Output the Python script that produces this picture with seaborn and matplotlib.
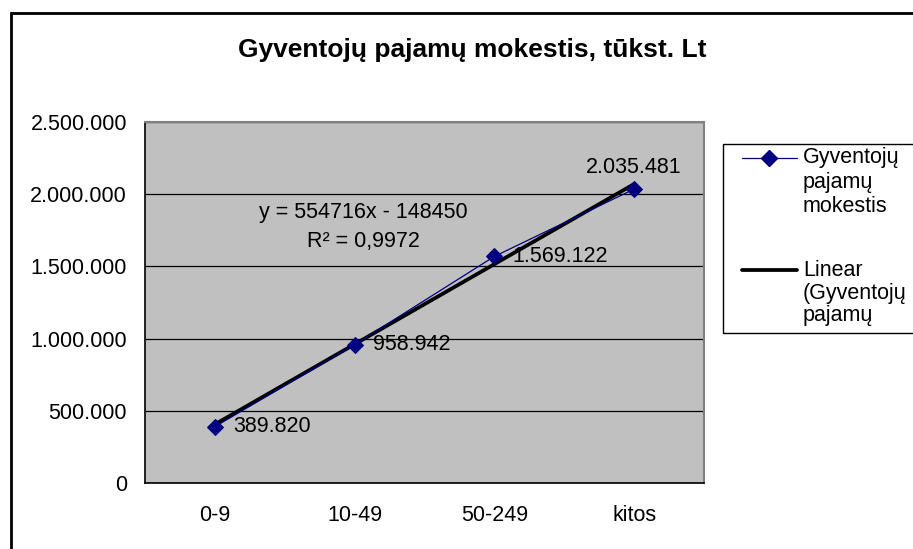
import numpy as np
import pandas as pd
import matplotlib
matplotlib.use("Agg")
import matplotlib.pyplot as plt
import seaborn as sns
from matplotlib.patches import Rectangle
from matplotlib.lines import Line2D

# Data
categories = ['0-9', '10-49', '50-249', 'kitos']
tax_values = [389820, 958942, 1569122, 2035481]
value_labels = ['389.820', '958.942', '1.569.122', '2.035.481']
y_ticks = [0, 500000, 1000000, 1500000, 2000000, 2500000]
y_tick_labels = ['0', '500.000', '1.000.000', '1.500.000', '2.000.000', '2.500.000']

df = pd.DataFrame({'idx': np.arange(len(categories)), 'value': tax_values})

sns.set_style('white')
plt.rcParams['font.family'] = ['Liberation Sans', 'DejaVu Sans']
plt.rcParams['text.color'] = 'black'
plt.rcParams['xtick.color'] = 'black'
plt.rcParams['ytick.color'] = 'black'

W, H = 913, 549
fig = plt.figure(figsize=(W / 100, H / 100), dpi=100)

def fx(px):
    return px / W

def fy(py):
    return 1 - py / H

# plot area in pixel coords
L, R, T, B = 145, 704, 122, 483
ax = fig.add_axes([fx(L), fy(B), fx(R) - fx(L), fy(T) - fy(B)])
ax.set_facecolor('#C0C0C0')

# trendline (Excel linear trend)
sns.regplot(data=df, x='idx', y='value', scatter=False, ci=None, ax=ax,
            line_kws={'color': 'black', 'lw': 2.7, 'zorder': 3})
# series
sns.lineplot(data=df, x='idx', y='value', ax=ax, color='#000080', lw=0.9,
             marker='D', markersize=8, markeredgecolor='#000080', zorder=4)

# fit text
slope, intercept = np.polyfit(df['idx'] + 1, df['value'], 1)
r2 = np.corrcoef(df['idx'], df['value'])[0, 1] ** 2
ax.text(0.39, 0.75, f'y = {slope:.0f}x - {abs(intercept):.0f}', transform=ax.transAxes,
        ha='center', va='center', fontsize=15.5)
ax.text(0.39, 0.67, 'R² = ' + f'{r2:.4f}'.replace('.', ','), transform=ax.transAxes,
        ha='center', va='center', fontsize=15.5)

# value labels
for i, (v, lab) in enumerate(zip(tax_values, value_labels)):
    if i < 3:
        ax.annotate(lab, (i, v), xytext=(13, 0), textcoords='offset points',
                    ha='left', va='center', fontsize=15.5, zorder=5)
    else:
        ax.annotate(lab, (i, v), xytext=(0, 8), textcoords='offset points',
                    ha='center', va='bottom', fontsize=15.5, zorder=5)

ax.set_xlim(-0.5, 3.5)
ax.set_ylim(0, 2500000)
ax.set_yticks(y_ticks)
ax.set_yticklabels(y_tick_labels, fontsize=15.5)
ax.set_xticks(range(len(categories)))
ax.set_xticklabels(categories, fontsize=15.5)
ax.set_xticks(np.arange(-0.5, 4, 1), minor=True)
ax.tick_params(axis='x', which='major', length=0, pad=16)
ax.tick_params(axis='x', which='minor', length=6, width=1, color='black', direction='out')
ax.tick_params(axis='y', length=5, width=1, color='black', direction='out', pad=8)
ax.yaxis.grid(True, color='black', lw=0.9)
ax.set_axisbelow(True)
ax.set_xlabel('')
ax.set_ylabel('')
for s in ['left', 'bottom']:
    ax.spines[s].set_color('black')
    ax.spines[s].set_linewidth(1.2)
for s in ['top', 'right']:
    ax.spines[s].set_color('#808080')
    ax.spines[s].set_linewidth(1.5)

# title
fig.text(fx(472), fy(50), 'Gyventojų pajamų mokestis, tūkst. Lt', ha='center', va='center',
         fontsize=19, fontweight='bold')

# outer border
fig.patches.append(Rectangle((fx(11), fy(560)), fx(920) - fx(11), fy(13) - fy(560),
                             transform=fig.transFigure, fill=False, edgecolor='black', lw=2))

# legend box (cut off by the figure edge)
fig.patches.append(Rectangle((fx(723), fy(333)), fx(950) - fx(723), fy(144) - fy(333),
                             transform=fig.transFigure, fill=False, edgecolor='black', lw=1))
fig.lines.append(Line2D([fx(742), fx(797)], [fy(158), fy(158)], transform=fig.transFigure,
                        color='#000080', lw=0.9))
fig.lines.append(Line2D([fx(769)], [fy(158)], transform=fig.transFigure, color='#000080',
                        marker='D', markersize=8, lw=0))
fig.lines.append(Line2D([fx(742), fx(797)], [fy(270), fy(270)], transform=fig.transFigure,
                        color='black', lw=2.7))
legend_lines = [('Gyventojų', 158), ('pajamų', 183), ('mokestis', 207),
                ('Linear', 270), ('(Gyventojų', 293), ('pajamų', 316)]
for txt, py in legend_lines:
    fig.text(fx(803), fy(py), txt, ha='left', va='center', fontsize=15.5)

fig.savefig('out.png', dpi=100)
